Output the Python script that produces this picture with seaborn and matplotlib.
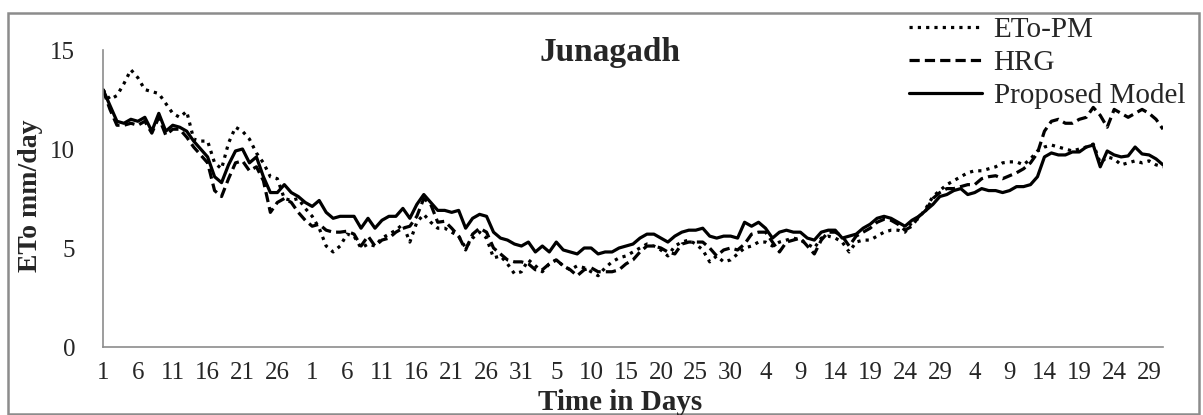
import numpy as np
import pandas as pd
import matplotlib
matplotlib.use("Agg")
import matplotlib.pyplot as plt
from matplotlib.patches import Rectangle
from matplotlib.lines import Line2D
import seaborn as sns

# ---------------- data ----------------
eto_pm = [13.0, 12.5, 12.7, 13.3, 14.0, 13.6, 13.0, 12.9, 12.8, 12.3,
          11.8, 11.6, 11.9, 10.5, 10.4, 10.4, 9.3, 9.0, 10.3, 11.1,
          10.9, 10.5, 9.8, 9.3, 8.6, 8.5, 7.5, 7.4, 7.5, 7.0,
          6.6, 6.0, 5.1, 4.8, 5.1, 5.7, 5.6, 5.0, 5.2, 5.1,
          5.5, 5.7, 5.9, 6.2, 5.3, 6.3, 6.7, 6.3, 6.0, 6.0,
          5.8, 5.6, 5.0, 5.5, 5.8, 5.5, 4.5, 4.6, 4.2, 3.7,
          3.8, 4.4, 4.1, 3.8, 4.2, 4.4, 4.1, 3.9, 4.1, 4.0,
          3.8, 3.6, 4.0, 4.3, 4.5, 4.6, 4.8, 5.0, 5.2, 5.1,
          4.9, 4.6, 5.1, 5.3, 5.4, 5.2, 4.9, 4.3, 4.6, 4.3,
          4.4, 4.7, 5.0, 5.1, 5.3, 5.3, 5.1, 5.3, 5.4, 5.5,
          5.4, 5.2, 5.0, 5.5, 5.6, 5.5, 5.3, 4.8, 5.3, 5.4,
          5.4, 5.6, 5.8, 5.9, 5.9, 5.8, 6.3, 6.5, 7.0, 7.6,
          7.9, 8.2, 8.4, 8.6, 8.8, 8.9, 8.9, 9.0, 9.1, 9.3,
          9.35, 9.35, 9.2, 9.5, 9.9, 10.1, 10.2, 10.1, 10.0, 9.9,
          10.0, 10.1, 10.25, 9.3, 9.6, 9.5, 9.2, 9.3, 9.4, 9.3,
          9.4, 9.2, 9.1]

hrg = [13.0, 12.0, 11.2, 11.2, 11.3, 11.2, 11.4, 10.8, 11.6, 10.7,
       11.0, 11.0, 10.6, 10.1, 9.7, 9.3, 7.9, 7.6, 8.5, 9.3,
       9.4, 8.9, 9.1, 8.4, 6.8, 7.3, 7.5, 7.3, 6.8, 6.4,
       6.1, 6.2, 5.9, 5.8, 5.8, 5.85, 5.7, 5.1, 5.6, 5.1,
       5.4, 5.5, 5.8, 6.0, 6.1, 6.6, 7.5, 7.2, 6.3, 6.35,
       6.0, 5.6, 4.9, 5.7, 6.0, 5.8, 5.0, 4.7, 4.4, 4.3,
       4.3, 4.2, 3.9, 3.9, 4.2, 4.4, 4.1, 3.9, 3.6, 3.9,
       4.0, 3.8, 3.8, 3.8, 3.9, 4.2, 4.4, 4.8, 5.1, 5.1,
       5.0, 4.8, 4.7, 5.2, 5.3, 5.3, 5.3, 5.0, 4.6, 4.9,
       5.0, 4.9, 5.2, 5.7, 5.8, 5.8, 5.3, 4.8, 5.3, 5.4,
       5.5, 5.1, 4.7, 5.4, 5.8, 5.8, 5.6, 5.1, 5.6, 5.8,
       6.0, 6.3, 6.45, 6.4, 6.2, 5.9, 6.1, 6.6, 6.9, 7.5,
       7.8, 8.0, 8.0, 8.1, 8.2, 8.2, 8.5, 8.6, 8.65, 8.5,
       8.65, 8.8, 9.0, 9.3, 9.8, 10.9, 11.4, 11.5, 11.3, 11.3,
       11.5, 11.6, 12.1, 11.7, 11.1, 12.0, 11.8, 11.6, 11.8, 12.0,
       11.8, 11.5, 11.0]

proposed = [13.0, 12.2, 11.4, 11.3, 11.5, 11.4, 11.6, 10.9, 11.8, 10.9,
            11.2, 11.1, 10.9, 10.4, 10.0, 9.6, 8.6, 8.3, 9.2, 9.9,
            10.0, 9.3, 9.6, 8.6, 7.8, 7.8, 8.2, 7.8, 7.6, 7.3,
            7.1, 7.4, 6.8, 6.5, 6.6, 6.6, 6.6, 6.0, 6.5, 6.0,
            6.4, 6.6, 6.6, 7.0, 6.5, 7.2, 7.7, 7.3, 6.9, 6.9,
            6.8, 6.9, 6.0, 6.5, 6.7, 6.6, 5.8, 5.5, 5.4, 5.2,
            5.1, 5.3, 4.8, 5.1, 4.8, 5.3, 4.9, 4.8, 4.7, 5.0,
            5.0, 4.7, 4.8, 4.8, 5.0, 5.1, 5.2, 5.5, 5.7, 5.7,
            5.5, 5.3, 5.6, 5.8, 5.9, 5.9, 6.0, 5.6, 5.5, 5.6,
            5.6, 5.5, 6.3, 6.1, 6.3, 6.0, 5.5, 5.8, 5.9, 5.8,
            5.8, 5.5, 5.4, 5.8, 5.9, 5.9, 5.5, 5.6, 5.7, 6.0,
            6.2, 6.5, 6.6, 6.5, 6.3, 6.1, 6.4, 6.6, 6.9, 7.2,
            7.6, 7.7, 7.9, 8.0, 7.7, 7.8, 8.0, 7.9, 7.9, 7.8,
            7.9, 8.1, 8.1, 8.2, 8.6, 9.6, 9.8, 9.7, 9.7, 9.85,
            9.85, 10.1, 10.2, 9.1, 9.9, 9.7, 9.6, 9.65, 10.1, 9.75,
            9.7, 9.5, 9.2]

series_names = ["ETo-PM", "HRG", "Proposed Model"]
tick_labels = ["1", "6", "11", "16", "21", "26",
               "1", "6", "11", "16", "21", "26", "31",
               "5", "10", "15", "20", "25", "30",
               "4", "9", "14", "19", "24", "29",
               "4", "9", "14", "19", "24", "29"]
y_ticks = [0, 5, 10, 15]

# ---------------- figure ----------------
sns.set_theme(style="white")
plt.rcParams["font.family"] = ["Liberation Serif", "DejaVu Serif"]

W, H = 1203, 415
fig = plt.figure(figsize=(W / 100, H / 100), dpi=100)
ax = fig.add_axes([103 / W, 1 - 347 / H, (1163 - 103) / W, (347 - 50) / H])

n = len(proposed)
df = pd.DataFrame({
    "day": np.tile(np.arange(n), 3),
    "value": eto_pm + hrg + proposed,
    "series": np.repeat(series_names, n),
})

dash_map = {"ETo-PM": (1.0, 1.6), "HRG": (3.2, 1.6), "Proposed Model": ""}
sns.lineplot(data=df, x="day", y="value", hue="series", style="series",
             palette={s: "black" for s in series_names}, dashes=dash_map,
             linewidth=2.3, ax=ax, legend=False)

ax.set_xlim(0, n - 1)
ax.set_ylim(0, 15)
ax.set_yticks(y_ticks)
ax.set_yticklabels([str(v) for v in y_ticks])
ax.set_xticks(np.arange(0, n, 5)[:len(tick_labels)])
ax.set_xticklabels(tick_labels)
ax.tick_params(axis="y", length=0, pad=20, labelsize=18)
ax.tick_params(axis="x", length=0, pad=11, labelsize=18)
for side in ["top", "right"]:
    ax.spines[side].set_visible(False)
for side in ["left", "bottom"]:
    ax.spines[side].set_color("#8c8c8c")
    ax.spines[side].set_linewidth(1.2)
ax.set_xlabel("")
ax.set_ylabel("")

fig.text(31 / W, 1 - 196 / H, "ETo mm/day", rotation=90, ha="center",
         va="center", fontsize=20, fontweight="bold")
fig.text(620 / W, 1 - 402 / H, "Time in Days", ha="center", va="center",
         fontsize=21, fontweight="bold")
fig.text(610 / W, 1 - 53 / H, "Junagadh", ha="center", va="center",
         fontsize=24, fontweight="bold")

handles = [Line2D([], [], color="black", lw=2.3,
                  linestyle=(0, dash_map[s]) if dash_map[s] else "-")
           for s in series_names]
fig.legend(handles, series_names, loc="upper left",
           bbox_to_anchor=(909 / W, 1 - 17 / H), frameon=False,
           fontsize=21, handlelength=2.5, handletextpad=0.4,
           labelspacing=0.22, borderaxespad=0, borderpad=0)

fig.patches.append(Rectangle((8 / W, 1 - 414 / H), (1199 - 8) / W, (414 - 13) / H,
                             transform=fig.transFigure, fill=False,
                             edgecolor="#8c8c8c", linewidth=1.8))

fig.savefig("out.png", dpi=100)
